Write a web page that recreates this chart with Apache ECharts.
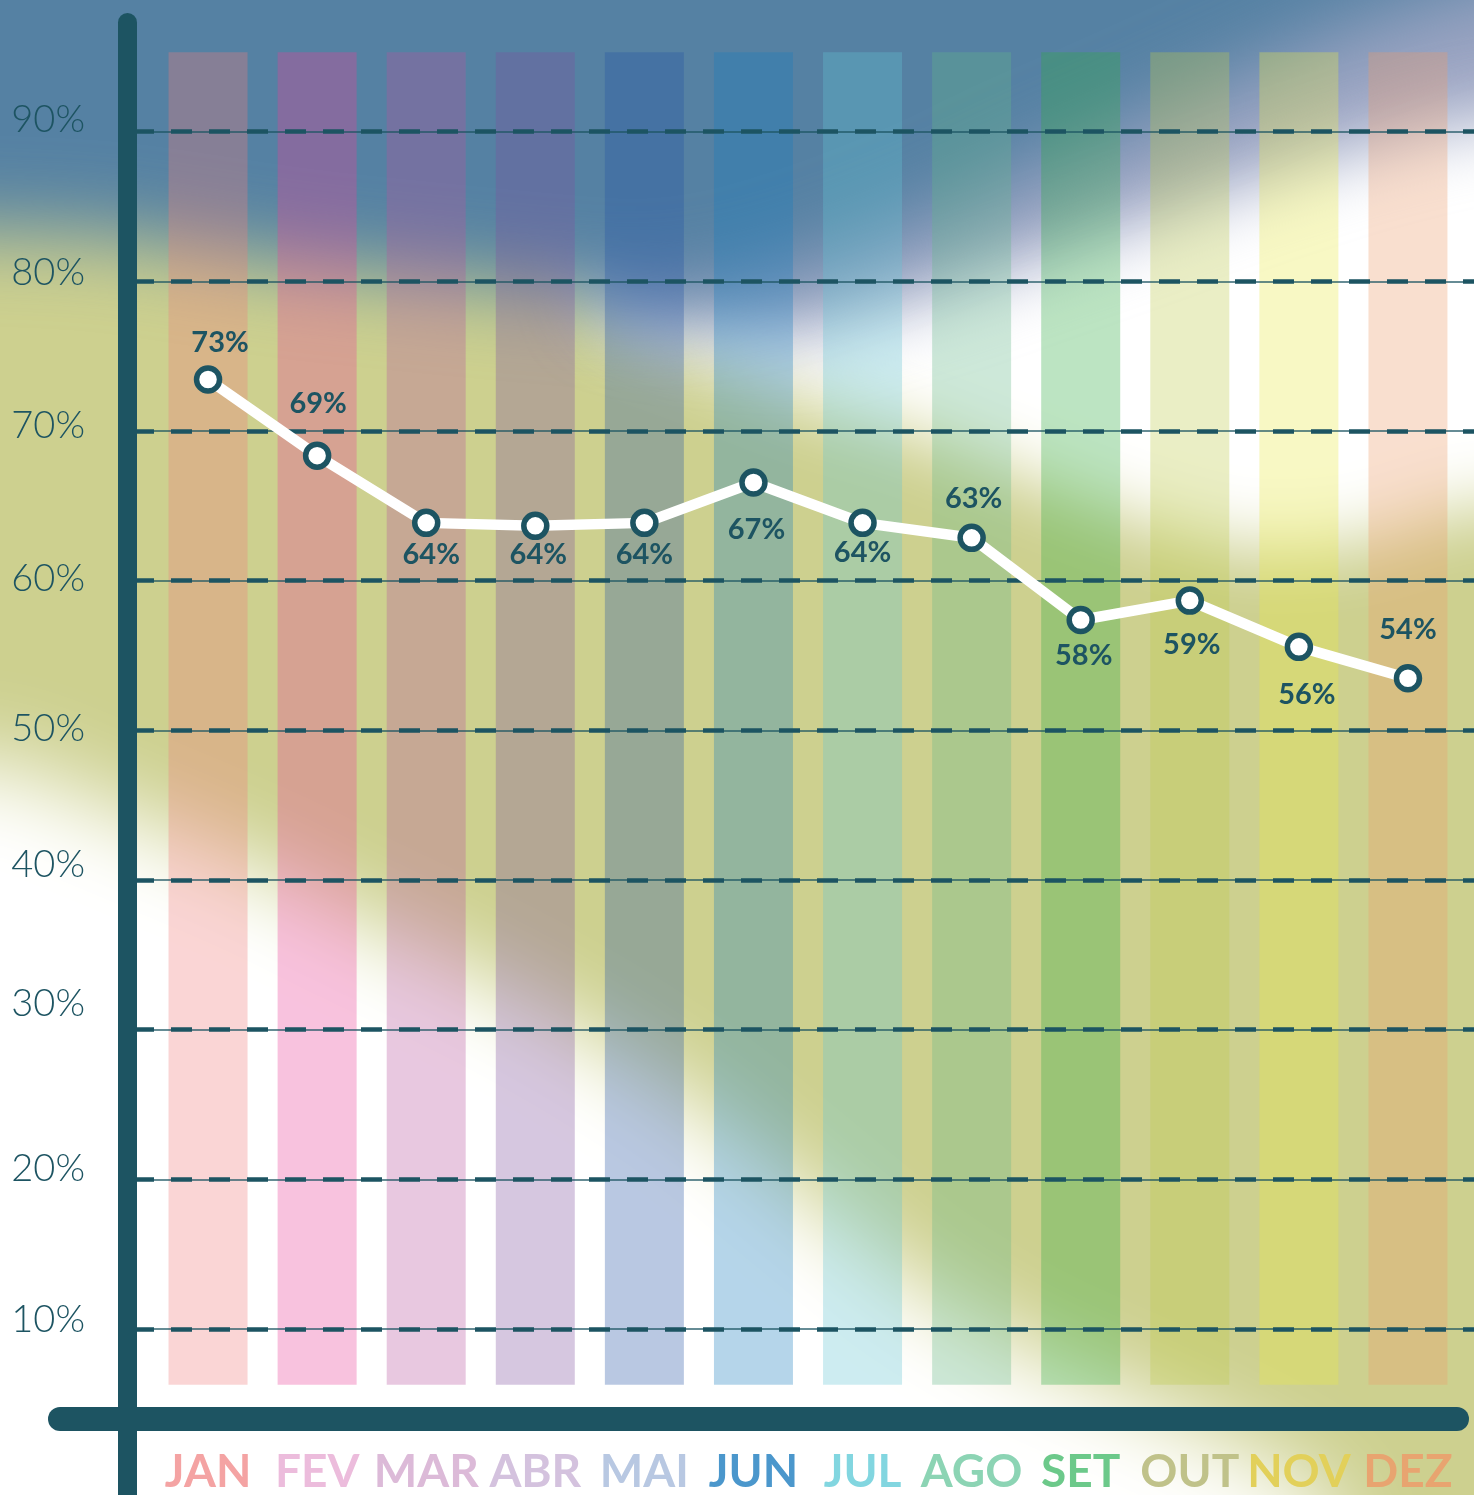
<!DOCTYPE html>
<html><head><meta charset="utf-8">
<script src="https://cdn.jsdelivr.net/npm/echarts@6/dist/echarts.min.js"></script>
<style>
html,body{margin:0;padding:0;width:1474px;height:1495px;overflow:hidden;background:#cdd08f;}
#bg{position:absolute;left:0;top:0;width:1474px;height:1495px;overflow:hidden;background:#cdd08f;}
.bl{position:absolute;left:0;top:0;width:1474px;height:1495px;}
.sh{position:absolute;left:-300px;top:-300px;width:2200px;height:2200px;}
#chart{position:absolute;left:0;top:0;width:1474px;height:1495px;}
</style></head>
<body>
<div id="bg"></div>
<div id="chart"></div>
<script>
// ---- data ----
const months = ['JAN','FEV','MAR','ABR','MAI','JUN','JUL','AGO','SET','OUT','NOV','DEZ'];
const values = [73.4, 68.3, 63.8, 63.6, 63.8, 66.5, 63.8, 62.8, 57.3, 58.6, 55.5, 53.4];
const valueLabels = ['73%','69%','64%','64%','64%','67%','64%','63%','58%','59%','56%','54%'];
const yTickMin = 10, yTickMax = 90, yTickStep = 10;
const columnBottom = 6.1, columnTop = 95.3;

// ---- styles ----
const barColors = ['rgba(239,124,124,0.32)','rgba(233,64,152,0.32)','rgba(183,83,158,0.32)','rgba(127,80,158,0.32)',
  'rgba(36,83,164,0.32)','rgba(24,124,189,0.32)','rgba(99,196,211,0.32)','rgba(99,183,138,0.32)',
  'rgba(46,171,64,0.32)','rgba(189,202,74,0.32)','rgba(233,233,71,0.32)','rgba(236,155,105,0.32)'];
const monthColors = ['#f4a3a3','#ecbcdc','#dcbad8','#d4c2de','#b8c8e2','#4b97cc','#82d6e0','#8cd4b4','#6cc98a','#c0c28a','#e2d05a','#e8a470'];
const labelOffsets = [[12,-37],[1,-52],[5,32],[3,29],[0,32],[3,47],[0,30],[2,-39],[3,36],[2,44],[8,48],[0,-49]];
const yLabelShift = {10:9, 20:11, 30:26, 40:15, 50:2, 60:2, 70:5, 80:9, 90:12};
const DARK = '#1d5462';

// ---- blurred background ----
const bg = document.getElementById('bg');
function shape(points, color, blur){
  const w = document.createElement('div'); w.className='bl'; w.style.filter='blur('+blur+'px)';
  const s = document.createElement('div'); s.className='sh'; s.style.background=color;
  s.style.clipPath='polygon('+points.map(p=>(p[0]+300)+'px '+(p[1]+300)+'px').join(',')+')';
  w.appendChild(s); bg.appendChild(w);
}
// white band (upper right), extends under the layers above it
shape([[620,-300],[1800,-300],[1800,520],[1474,505],[1354,545],[1245,550],[1135,520],[1030,480],[920,435],[800,400],[700,360],[600,325]], '#ffffff', 35);
// lavender transition
shape([[500,-300],[1800,-300],[1800,100],[1474,120],[1354,150],[1245,185],[1135,225],[950,290],[800,335],[680,325],[600,310]], '#9ca5c3', 35);
// blue sky
shape([[-300,-300],[1800,-300],[1800,-70],[1474,-15],[1354,25],[1245,75],[1135,125],[1030,170],[950,210],[850,250],[750,282],[650,298],[500,285],[300,265],[100,235],[-300,220]], '#5581a3', 40);
// white lower left
shape([[-300,760],[0,760],[263,870],[372,925],[481,975],[590,1035],[699,1105],[808,1195],[917,1285],[1027,1350],[1120,1390],[1230,1440],[1330,1495],[1400,1800],[-300,1800]], '#ffffff', 45);

// ---- chart ----
const chart = echarts.init(document.getElementById('chart'), null, {renderer:'canvas'});
const rich = {};
Object.keys(yLabelShift).forEach(k => { rich['s'+k] = {padding:[0,0,2*yLabelShift[k],0], fontSize:38, fontWeight:300, fontFamily:'Lato', color:DARK}; });

const option = {
  animation:false,
  backgroundColor:'transparent',
  grid:[
    {left:153.5, right:11.5, top:0, bottom:16},
    {left:137, right:0, top:131.7, bottom:166}
  ],
  xAxis:[
    {type:'category', gridIndex:0, data:months, boundaryGap:true,
     axisLine:{show:false}, axisTick:{show:false}, splitLine:{show:false},
     axisLabel:{interval:0, margin:-4, verticalAlign:'middle', fontSize:46, fontWeight:'bold', fontFamily:'Lato',
       color:(v,i)=>monthColors[i]}},
    {type:'value', gridIndex:1, show:false, min:0, max:1}
  ],
  yAxis:[
    {type:'value', gridIndex:0, min:0, max:98.8, show:false},
    {type:'value', gridIndex:1, min:yTickMin, max:yTickMax, interval:yTickStep, z:3,
     axisLine:{show:false}, axisTick:{show:false},
     axisLabel:{margin:52, formatter:v=>'{s'+v+'|'+v+'%}', rich:rich},
     splitLine:{show:true, lineStyle:{color:DARK, width:4.5, type:[21,17], dashOffset:4}}},
    {type:'value', gridIndex:1, min:yTickMin, max:yTickMax, interval:yTickStep, z:3,
     axisLine:{show:false}, axisTick:{show:false}, axisLabel:{show:false},
     splitLine:{show:true, lineStyle:{color:DARK, width:1.6, opacity:0.9}}}
  ],
  graphic:[
    {type:'rect', z:50, shape:{x:118, y:13, width:19, height:1500, r:[9.5,9.5,0,0]}, style:{fill:DARK}},
    {type:'rect', z:50, shape:{x:48, y:1407, width:1421, height:24, r:12}, style:{fill:DARK}}
  ],
  series:[
    {type:'bar', xAxisIndex:0, yAxisIndex:0, stack:'col', barWidth:79, silent:true, z:1,
     itemStyle:{color:'transparent'}, data:months.map(()=>columnBottom)},
    {type:'bar', xAxisIndex:0, yAxisIndex:0, stack:'col', barWidth:79, silent:true, z:1,
     data:months.map((m,i)=>({value:columnTop-columnBottom, itemStyle:{color:barColors[i]}}))},
    {type:'line', xAxisIndex:0, yAxisIndex:0, z:20,
     symbol:'circle', symbolSize:23,
     lineStyle:{color:'#ffffff', width:10.5},
     itemStyle:{color:'#ffffff', borderColor:DARK, borderWidth:5.5},
     label:{show:true, position:'inside', fontSize:29, fontWeight:'bold', fontFamily:'Lato', color:DARK},
     data:values.map((v,i)=>({value:v, label:{offset:labelOffsets[i], formatter:valueLabels[i]}}))}
  ]
};
chart.setOption(option);
</script>
</body></html>
